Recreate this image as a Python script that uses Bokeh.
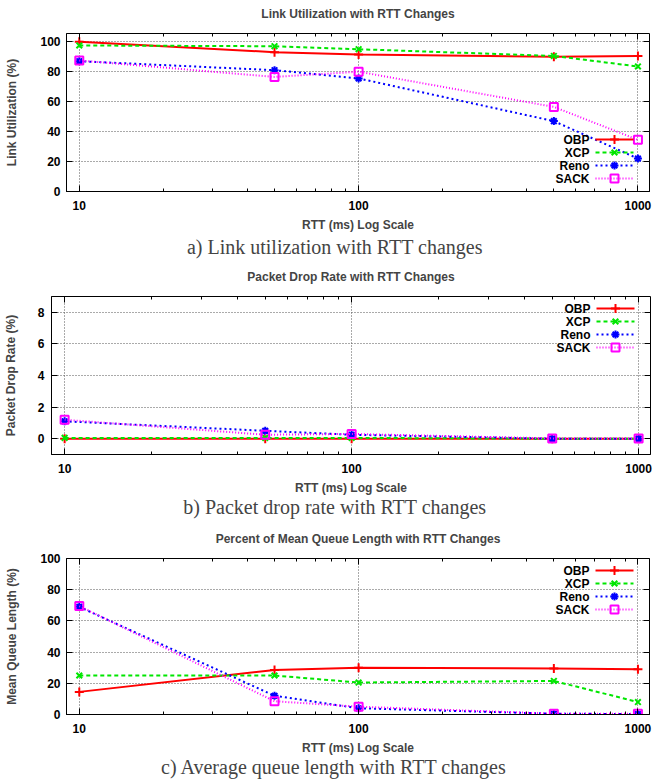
import numpy as np
from bokeh.plotting import figure
from bokeh.models import Range1d, FixedTicker, LogAxis, LinearAxis, Title, NumeralTickFormatter
from bokeh.layouts import column
from bokeh.embed import file_html
from bokeh.resources import INLINE
from bokeh.core.properties import value

# ---------------- data ----------------
rtt = [10, 50, 100, 500, 1000]
series_names = ["OBP", "XCP", "Reno", "SACK"]

util_obp = [100, 93, 91.5, 90, 90.5]
util_xcp = [97.5, 97, 95, 90.5, 83.5]
util_reno = [87, 81, 75.5, 47, 22]
util_sack = [87.5, 76.5, 80, 56.5, 34.5]

drop_obp = [0, 0, 0, 0, 0]
drop_xcp = [0.05, 0.05, 0.05, 0, 0]
drop_reno = [1.1, 0.5, 0.25, 0, 0]
drop_sack = [1.2, 0.25, 0.3, 0.02, 0.02]

queue_obp = [14.5, 28.5, 30, 29.5, 29]
queue_xcp = [25, 25, 20.5, 21.5, 8]
queue_reno = [69, 12, 4, 0.5, 0.3]
queue_sack = [69.5, 8.5, 5, 0.5, 0.5]

x_major_ticks = [10, 100, 1000]
x_minor_ticks = [20, 30, 40, 50, 60, 70, 80, 90, 200, 300, 400, 500, 600, 700, 800, 900]
util_ticks = [0, 20, 40, 60, 80, 100]
drop_ticks = [0, 2, 4, 6, 8]
queue_ticks = [0, 20, 40, 60, 80, 100]

# ---------------- styles ----------------
SANS = "Liberation Sans"
SERIF = "Liberation Serif"
X_RANGE = (9, 1100)
W = 655
CAPTION_PX = 20
CAPTION_CENTER = 335

# Times-metric advance widths (em) used to centre the captions on the page
TIMES_W = {'a': .444, 'b': .5, 'c': .444, 'd': .5, 'e': .444, 'g': .5, 'h': .5,
           'i': .278, 'k': .5, 'l': .278, 'n': .5, 'o': .5, 'p': .5, 'q': .5,
           'r': .333, 's': .389, 't': .278, 'u': .5, 'v': .5, 'w': .722, 'z': .444,
           'A': .722, 'L': .611, 'P': .556, 'R': .667, 'T': .611, ')': .333, ' ': .25}

styles = {
    "OBP": dict(color="#ff0000", dash="solid", marker="cross", size=9),
    "XCP": dict(color="#00e600", dash="4 3", marker="x", size=8),
    "Reno": dict(color="#0000ff", dash="2 3", marker="asterisk", size=8),
    "SACK": dict(color="#ff00ff", dash="1 2", marker="square", size=8),
}


def style_axis(ax, ticker, show_labels=True):
    ax.ticker = ticker
    ax.major_tick_in = 6
    ax.major_tick_out = 0
    ax.minor_tick_in = 3
    ax.minor_tick_out = 0
    ax.major_tick_line_color = "black"
    ax.minor_tick_line_color = "black"
    ax.axis_line_color = "black"
    ax.major_label_text_font = SANS
    ax.major_label_text_font_style = "bold"
    ax.major_label_text_color = "black"
    if show_labels:
        ax.major_label_text_font_size = "12px"
    else:
        ax.major_label_text_font_size = "1px"
        ax.major_label_text_color = None
        ax.major_label_standoff = 0
        ax.axis_line_color = None


def make_panel(title, caption, ylabel, series, y_range, y_ticks, height,
               left, right, top, bottom, legend_off, ylab_standoff, ytick_standoff,
               cap_standoff):
    p = figure(width=W, height=height, x_axis_type="log", title=None,
               x_range=Range1d(*X_RANGE), y_range=Range1d(*y_range),
               output_backend="svg", toolbar_location=None,
               min_border_left=left, min_border_right=right,
               min_border_top=top, min_border_bottom=bottom)
    p.outline_line_color = "black"
    p.outline_line_width = 1
    p.background_fill_color = "white"
    p.border_fill_color = "white"

    xt = FixedTicker(ticks=x_major_ticks, minor_ticks=x_minor_ticks)
    yt = FixedTicker(ticks=y_ticks, minor_ticks=[])

    xa = p.xaxis[0]
    style_axis(xa, xt)
    xa.formatter = NumeralTickFormatter(format="0")
    xa.major_label_standoff = 9
    xa.axis_label = "RTT (ms) Log Scale"
    xa.axis_label_text_font = SANS
    xa.axis_label_text_font_size = "12px"
    xa.axis_label_text_font_style = "bold"
    xa.axis_label_standoff = 5

    ya = p.yaxis[0]
    style_axis(ya, yt)
    ya.major_label_standoff = ytick_standoff
    ya.axis_label = ylabel
    ya.axis_label_text_font = SANS
    ya.axis_label_text_font_size = "12px"
    ya.axis_label_text_font_style = "bold"
    ya.axis_label_standoff = ylab_standoff

    # mirrored axis on top, its label serves as the chart title
    top_ax = LogAxis()
    style_axis(top_ax, FixedTicker(ticks=x_major_ticks, minor_ticks=x_minor_ticks), show_labels=False)
    top_ax.axis_label = title
    top_ax.axis_label_text_font = SANS
    top_ax.axis_label_text_font_size = "12px"
    top_ax.axis_label_text_font_style = "bold"
    top_ax.axis_label_standoff = 13
    p.add_layout(top_ax, "above")
    right_ax = LinearAxis()
    style_axis(right_ax, FixedTicker(ticks=y_ticks, minor_ticks=[]), show_labels=False)
    p.add_layout(right_ax, "right")

    p.xgrid.ticker = xt
    p.ygrid.ticker = yt
    for g in (p.xgrid[0], p.ygrid[0]):
        g.grid_line_color = "#555555"
        g.grid_line_dash = "1 2"
        g.grid_line_width = 1

    cap_w = sum(TIMES_W.get(ch, 0.5) for ch in caption) * CAPTION_PX
    cap = Title(text=caption, align="left", text_font=SERIF,
                text_font_size=f"{CAPTION_PX}px", text_font_style="normal",
                standoff=0, offset=CAPTION_CENTER - cap_w / 2 - left)
    try:
        cap.standoff = cap_standoff
    except Exception:
        cap.standoff = 0
    p.add_layout(cap, "below")

    # data
    for name, vals in zip(series_names, series):
        st = styles[name]
        p.line(rtt, vals, line_color=st["color"], line_width=2, line_dash=st["dash"])
        p.scatter(rtt, vals, marker=st["marker"], size=st["size"],
                  line_color=st["color"], fill_color=None, line_width=2)

    # legend (label on the left, sample on the right, inside top-right)
    fw = W - left - right
    fh = height - top - bottom
    lo, hi = np.log10(X_RANGE[0]), np.log10(X_RANGE[1])

    def px_x(d_right):
        return 10 ** (hi - d_right / fw * (hi - lo))

    def px_y(d_top):
        return y_range[1] - d_top / fh * (y_range[1] - y_range[0])

    for i, name in enumerate(series_names):
        st = styles[name]
        yy = px_y(legend_off + 13 * i)
        p.line([px_x(54), px_x(16)], [yy, yy], line_color=st["color"],
               line_width=2, line_dash=st["dash"])
        p.scatter([px_x(35)], [yy], marker=st["marker"], size=st["size"],
                  line_color=st["color"], fill_color=None, line_width=2)
        p.text([px_x(60)], [yy], text=[name], text_align="right",
               text_baseline="middle", text_font=value(SANS),
               text_font_size="12px", text_font_style="bold", text_color="black")
    return p


pa = make_panel("Link Utilization with RTT Changes",
                "a) Link utilization with RTT changes",
                "Link Utilization (%)",
                [util_obp, util_xcp, util_reno, util_sack],
                (0, 105.5), util_ticks, 259,
                left=66, right=6, top=33, bottom=68, legend_off=106,
                ylab_standoff=18, ytick_standoff=6, cap_standoff=-1)

pb = make_panel("Packet Drop Rate with RTT Changes",
                "b) Packet drop rate with RTT changes",
                "Packet Drop Rate (%)",
                [drop_obp, drop_xcp, drop_reno, drop_sack],
                (-1, 9), drop_ticks, 263,
                left=51, right=5, top=37, bottom=68, legend_off=12,
                ylab_standoff=17, ytick_standoff=7, cap_standoff=-7)

pc = make_panel("Percent of Mean Queue Length with RTT Changes",
                "c) Average queue length with RTT changes",
                "Mean Queue Length (%)",
                [queue_obp, queue_xcp, queue_reno, queue_sack],
                (0, 100), queue_ticks, 261,
                left=66, right=6, top=36, bottom=69, legend_off=12,
                ylab_standoff=18, ytick_standoff=6, cap_standoff=-7)

layout = column(pa, column(pb), pc, spacing=0)

with open("out.html", "w") as f:
    f.write(file_html(layout, INLINE))
